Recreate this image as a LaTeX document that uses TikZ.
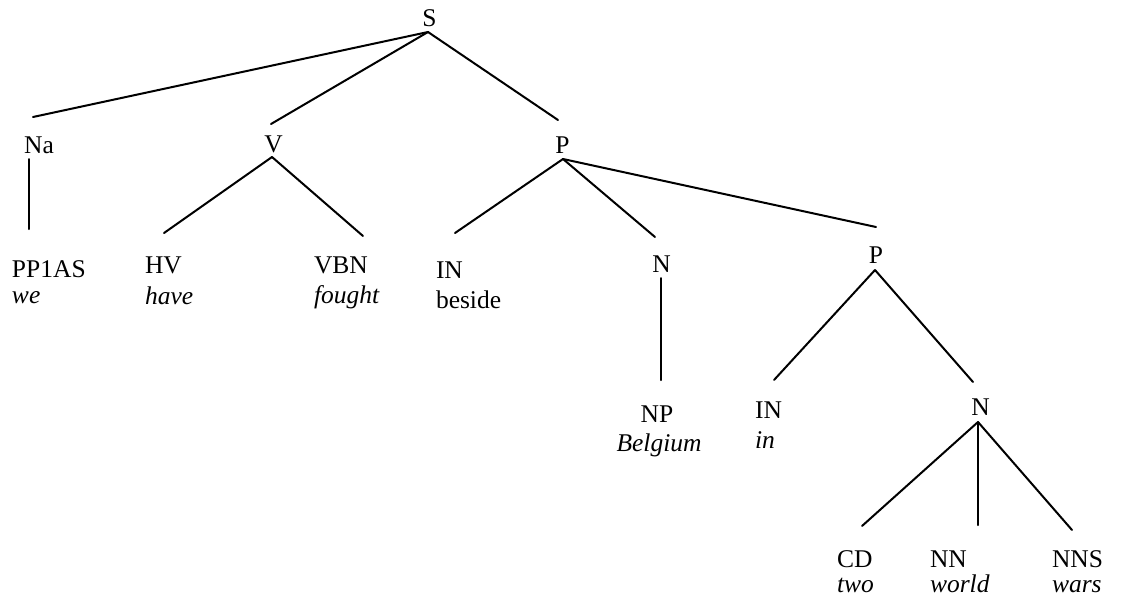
\documentclass[tikz,border=0pt]{standalone}
\usepackage{fontspec}
\setmainfont{Liberation Serif}
\begin{document}
\begin{tikzpicture}[x=1pt, y=-1pt,
  every node/.style={inner sep=0pt, outer sep=0pt, font=\fontsize{25.5}{30}\selectfont},
  cat/.style={anchor=base},
  tag/.style={anchor=base west},
  word/.style={anchor=base west, font=\fontsize{25.5}{30}\selectfont\itshape},
  plainword/.style={anchor=base west},
  branch/.style={line width=2pt, line cap=round}]
  \fill[white] (0,0) rectangle (1123,598);
  \useasboundingbox (0,0) rectangle (1123,598);

  % phrase categories
  \node[cat] (S)  at (429.5,26) {S};
  \node[cat] (Na) at (39,153)   {Na};
  \node[cat] (V)  at (273.5,152) {V};
  \node[cat] (P)  at (562.5,153) {P};
  \node[cat] (N)  at (661.5,272) {N};
  \node[cat] (P2) at (876,263)   {P};
  \node[cat] (N2) at (980.5,415) {N};

  % word tags with their words
  \node[tag]  (pp1as) at (12,277)  {PP1AS};
  \node[word] (we)    at (12,303)  {we};
  \node[tag]  (hv)    at (145,273) {HV};
  \node[word] (have)  at (145,304) {have};
  \node[tag]  (vbn)   at (314,273) {VBN};
  \node[word] (fought) at (314,303) {fought};
  \node[tag]  (in1)   at (436,278) {IN};
  \node[plainword] (beside) at (436,308) {beside};
  \node[cat]  (np)    at (657,422) {NP};
  \node[anchor=base, font=\fontsize{25.5}{30}\selectfont\itshape] (belgium) at (659,451) {Belgium};
  \node[tag]  (in2)   at (755,418) {IN};
  \node[word] (inw)   at (755,448) {in};
  \node[tag]  (cd)    at (837,567) {CD};
  \node[word] (two)   at (837,592) {two};
  \node[tag]  (nn)    at (930,567) {NN};
  \node[word] (world) at (930,592) {world};
  \node[tag]  (nns)   at (1052,567) {NNS};
  \node[word] (wars)  at (1052,592) {wars};

  % branches
  \draw[branch] ([shift={(-1.5,6)}]S.base) -- ([shift={(-6,-36)}]Na.base);
  \draw[branch] ([shift={(-1.5,6)}]S.base) -- ([shift={(-2.5,-28)}]V.base);
  \draw[branch] ([shift={(-1.5,6)}]S.base) -- ([shift={(-4.5,-33)}]P.base);

  \draw[branch] ([shift={(-10,6)}]Na.base) -- ([shift={(17,-48)}]pp1as.base west);

  \draw[branch] ([shift={(-1.5,5)}]V.base) -- ([shift={(19,-40)}]hv.base west);
  \draw[branch] ([shift={(-1.5,5)}]V.base) -- ([shift={(49,-37)}]vbn.base west);

  \draw[branch] ([shift={(0.5,6)}]P.base) -- ([shift={(19,-45)}]in1.base west);
  \draw[branch] ([shift={(0.5,6)}]P.base) -- ([shift={(-6.5,-35)}]N.base);
  \draw[branch] ([shift={(0.5,6)}]P.base) -- ([shift={(0,-36)}]P2.base);

  \draw[branch] ([shift={(-0.5,6)}]N.base) -- ([shift={(4,-42)}]np.base);

  \draw[branch] ([shift={(-1,7)}]P2.base) -- ([shift={(19,-38)}]in2.base west);
  \draw[branch] ([shift={(-1,7)}]P2.base) -- ([shift={(-7.5,-33)}]N2.base);

  \draw[branch] ([shift={(-2.5,7)}]N2.base) -- ([shift={(25,-41)}]cd.base west);
  \draw[branch] ([shift={(-2.5,7)}]N2.base) -- ([shift={(48,-42)}]nn.base west);
  \draw[branch] ([shift={(-2.5,7)}]N2.base) -- ([shift={(20,-37)}]nns.base west);
\end{tikzpicture}
\end{document}
